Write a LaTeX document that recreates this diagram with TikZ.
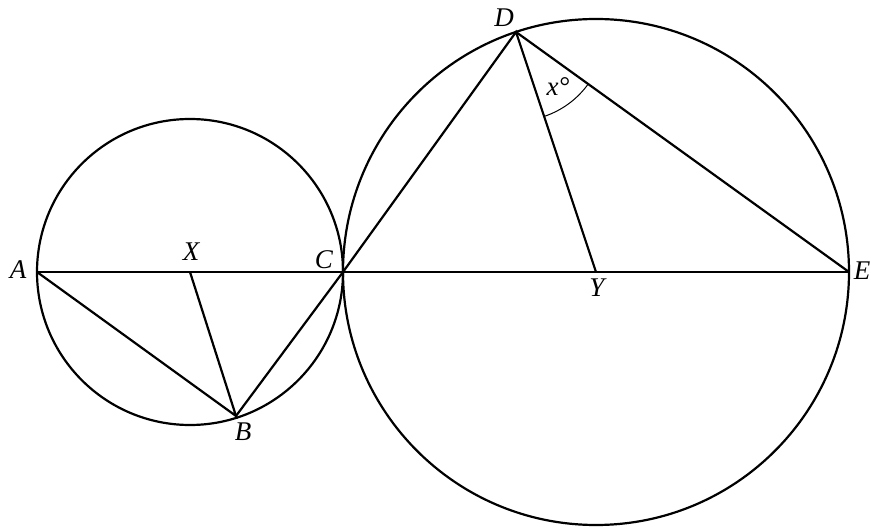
\documentclass[tikz,border=0pt]{standalone}
\usepackage{fontspec}
\setmainfont{Liberation Serif}
\usetikzlibrary{angles}
\begin{document}
\begin{tikzpicture}[x=1pt,y=1pt,line width=2.2pt,
  lbl/.style={font=\fontsize{27pt}{31pt}\selectfont\itshape, inner sep=0pt}]
\useasboundingbox (0,0) rectangle (871,528);
\coordinate (X) at (190,256);
\coordinate (Y) at (596,256);
\coordinate (A) at (37,256);
\coordinate (C) at (343,256);
\coordinate (E) at (849,256);
\coordinate (D) at (516,496);
\coordinate (B) at (236,112);
\draw (X) circle (153);
\draw (Y) circle (253);
\draw (A) -- (E);
\draw (A) -- (B) -- (X);
\draw (B) -- (C) -- (D) -- (Y);
\draw (D) -- (E);
\pic[draw, line width=1pt, angle radius=89pt] {angle = Y--D--E};
\node[lbl] (lA) at (18,258) {A};
\node[lbl] (lX) at (191,276) {X};
\node[lbl] (lC) at (324,268) {C};
\node[lbl] (lE) at (862,257) {E};
\node[lbl] (lB) at (243,96) {B};
\node[lbl] (lD) at (504,510) {D};
\node[lbl] (lY) at (597,240) {Y};
\node[lbl] (lx) at (558,441) {x\textdegree};
\end{tikzpicture}
\end{document}
